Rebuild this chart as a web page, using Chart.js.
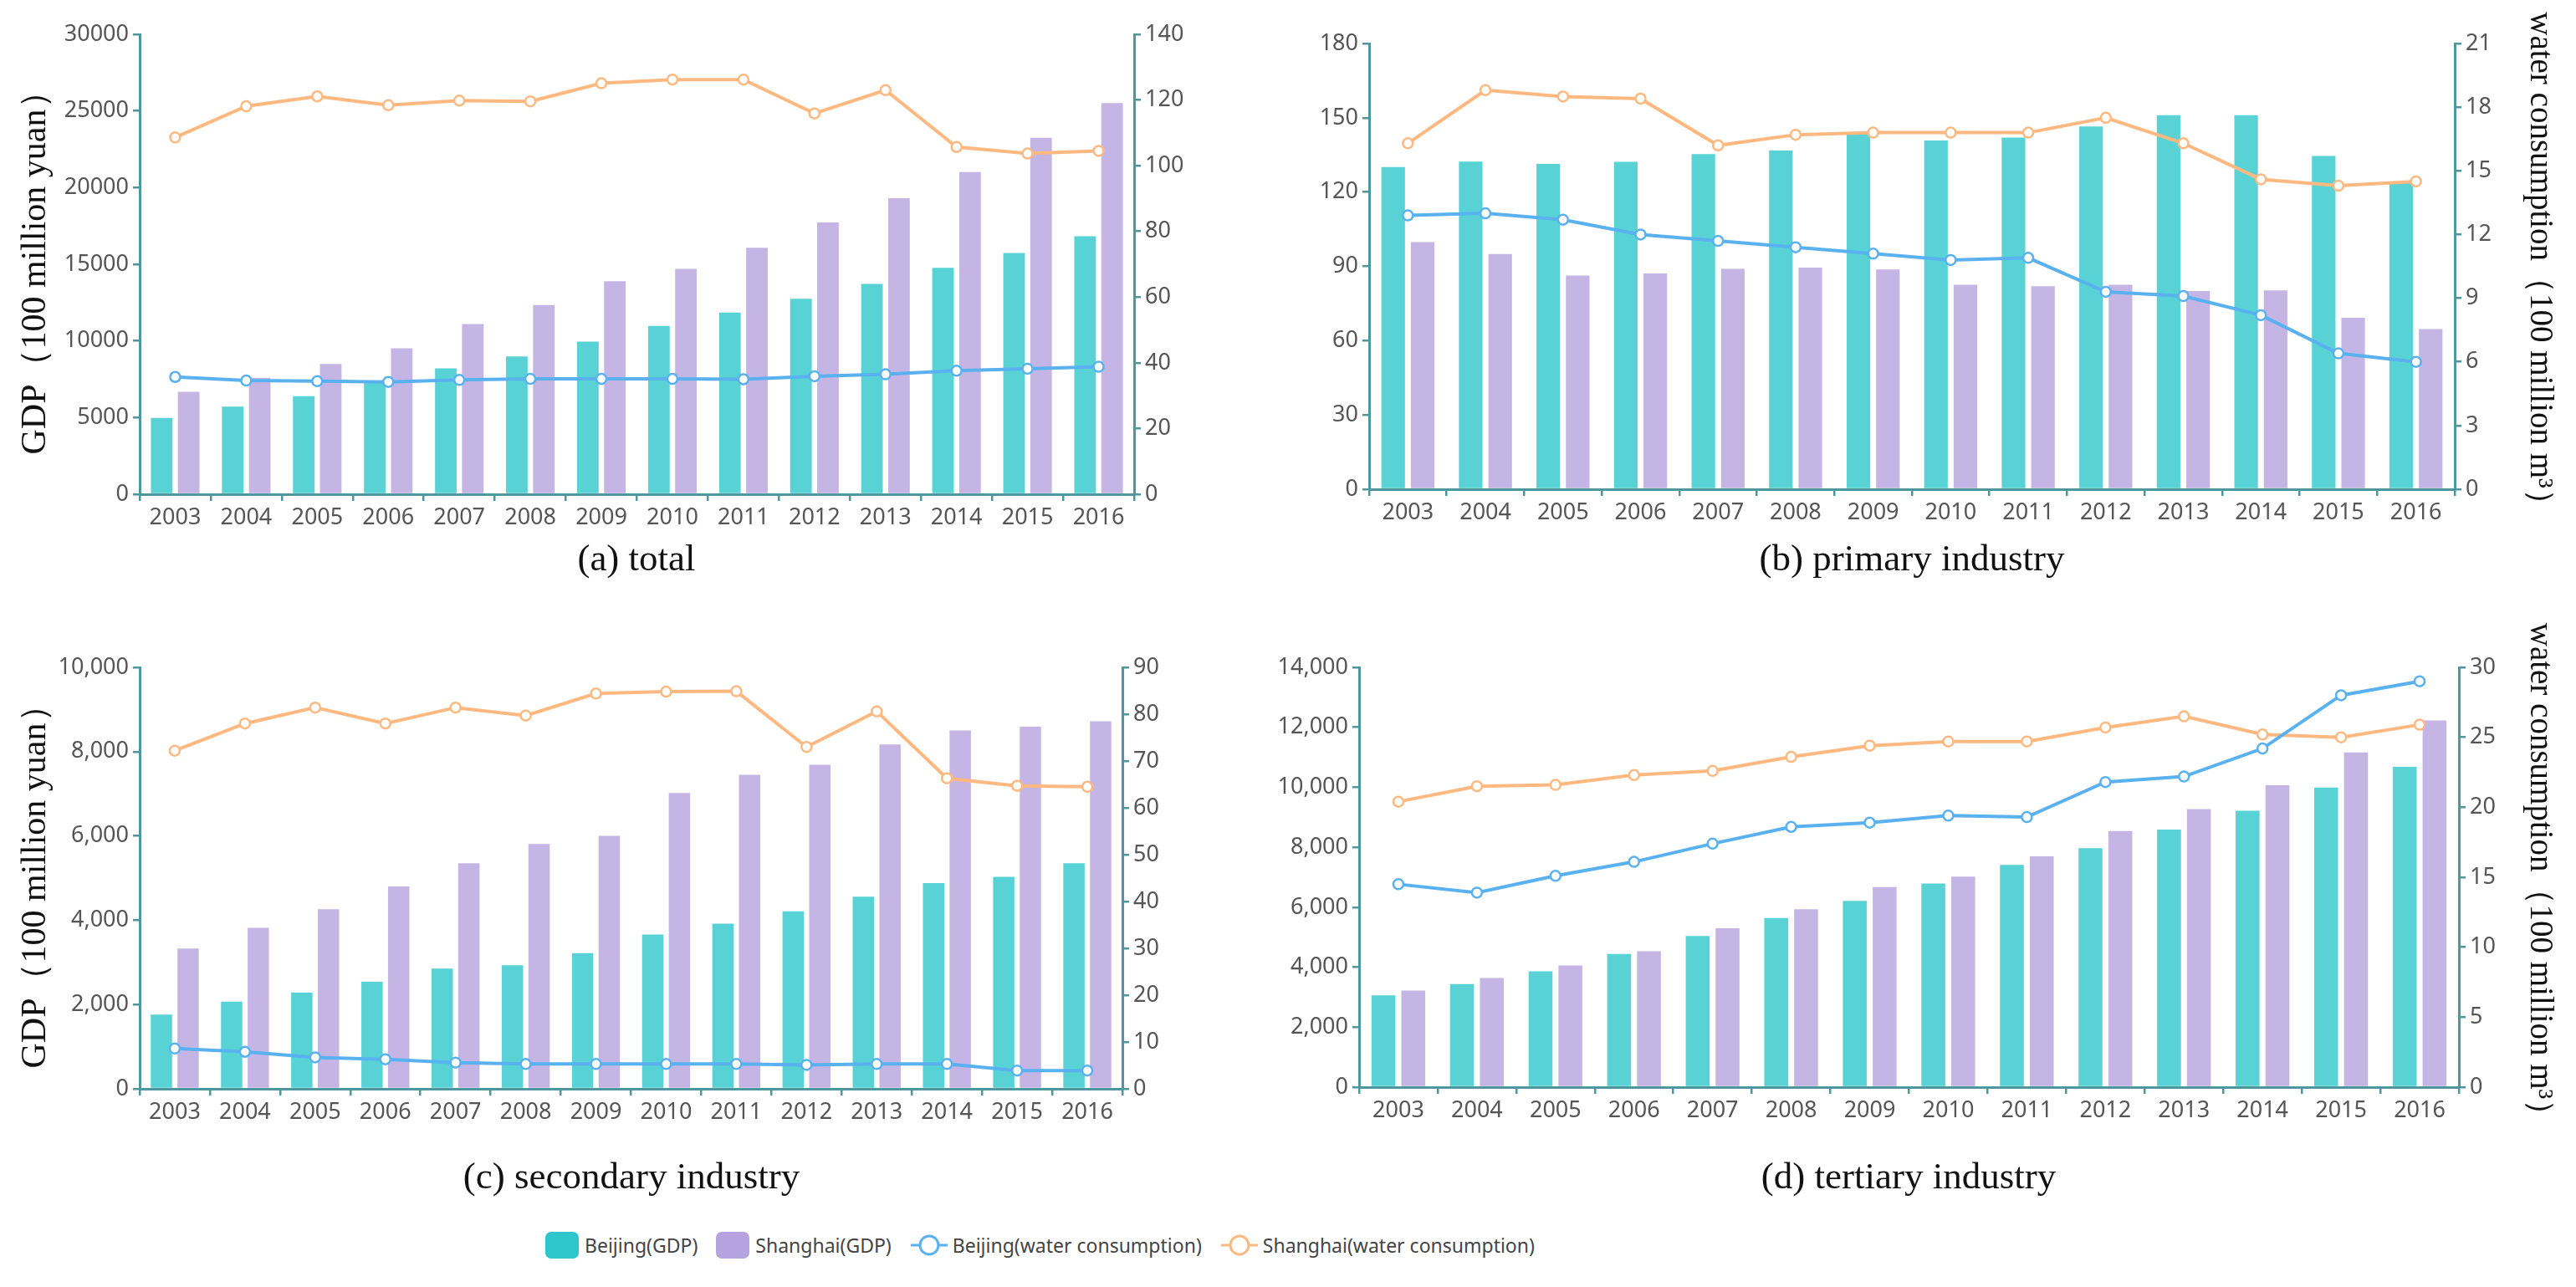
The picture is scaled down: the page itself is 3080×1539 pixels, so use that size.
<!DOCTYPE html>
<html>
<head>
<meta charset="utf-8">
<script src="https://cdn.jsdelivr.net/npm/chart.js@4.4.0/dist/chart.umd.min.js"></script>
<style>
  body { margin: 0; background: #fff; width: 3080px; height: 1539px; position: relative; overflow: hidden; font-family: "Noto Sans", sans-serif; }
  .panel { position: absolute; }
  .cap { position: absolute; font-family: "Liberation Serif", "Times New Roman", serif; font-size: 45px; line-height: 46px; color: #111; transform: translateX(-50%); white-space: nowrap; }
  #legend { position: absolute; left: 652px; top: 1469px; height: 40px; display: flex; align-items: center; font-size: 23px; color: #444; }
  #legend .item { display: flex; align-items: center; margin-right: 22px; }
  #legend .box { width: 40px; height: 32px; border-radius: 7px; margin-right: 7px; }
  #legend svg { margin-right: 5px; }
</style>
</head>
<body>
<canvas id="chartA" class="panel" style="left:0;top:0" width="1480" height="700"></canvas>
<canvas id="chartB" class="panel" style="left:1480px;top:0" width="1600" height="700"></canvas>
<canvas id="chartC" class="panel" style="left:0;top:700px" width="1480" height="760"></canvas>
<canvas id="chartD" class="panel" style="left:1480px;top:700px" width="1600" height="760"></canvas>

<div class="cap" style="left:761px;top:644px">(a) total</div>
<div class="cap" style="left:2286px;top:644px">(b) primary industry</div>
<div class="cap" style="left:755px;top:1383px">(c) secondary industry</div>
<div class="cap" style="left:2282px;top:1383px">(d) tertiary industry</div>

<div id="legend"></div>

<script>
// GDP (100 million yuan) and water consumption (100 million m3), Beijing vs Shanghai
const years = ['2003', '2004', '2005', '2006', '2007', '2008', '2009', '2010', '2011', '2012', '2013', '2014', '2015', '2016'];

// (a) total
const totalBjGdp = [4980, 5710, 6390, 7290, 8210, 8990, 9960, 10980, 11850, 12750, 13720, 14770, 15740, 16830];
const totalShGdp = [6680, 7600, 8500, 9520, 11100, 12340, 13890, 14700, 16080, 17730, 19310, 21010, 23250, 25510];
const totalBjWater = [35.7, 34.6, 34.4, 34.2, 34.8, 35.1, 35.1, 35.1, 35.0, 35.9, 36.5, 37.6, 38.2, 38.8];
const totalShWater = [108.6, 118.1, 121.1, 118.4, 119.8, 119.6, 125.1, 126.2, 126.2, 115.9, 123.0, 105.7, 103.7, 104.5];

// (b) primary industry
const primBjGdp = [130.1, 132.3, 131.4, 132.2, 135.3, 136.8, 143.6, 140.8, 142.0, 146.5, 151.0, 151.0, 134.6, 123.6];
const primShGdp = [99.8, 95.0, 86.3, 87.1, 89.0, 89.5, 88.7, 82.6, 82.0, 82.6, 80.0, 80.3, 69.2, 64.7];
const primBjWater = [12.9, 13.0, 12.7, 12.0, 11.7, 11.4, 11.1, 10.8, 10.9, 9.3, 9.1, 8.2, 6.4, 6.0];
const primShWater = [16.3, 18.8, 18.5, 18.4, 16.2, 16.7, 16.8, 16.8, 16.8, 17.5, 16.3, 14.6, 14.3, 14.5];

// (c) secondary industry
const secBjGdp = [1760, 2070, 2280, 2540, 2850, 2930, 3220, 3660, 3920, 4210, 4560, 4880, 5030, 5350];
const secShGdp = [3330, 3820, 4260, 4800, 5350, 5810, 6000, 7020, 7450, 7690, 8170, 8500, 8590, 8720];
const secBjWater = [8.6, 7.9, 6.7, 6.3, 5.6, 5.3, 5.3, 5.3, 5.3, 5.1, 5.3, 5.3, 3.9, 3.9];
const secShWater = [72.2, 78.0, 81.4, 78.0, 81.4, 79.7, 84.4, 84.8, 84.9, 73.0, 80.6, 66.3, 64.7, 64.5];

// (d) tertiary industry
const terBjGdp = [3060, 3440, 3860, 4440, 5040, 5640, 6210, 6790, 7410, 7970, 8590, 9220, 9990, 10680];
const terShGdp = [3220, 3640, 4060, 4530, 5300, 5930, 6670, 7020, 7700, 8540, 9270, 10070, 11160, 12230];
const terBjWater = [14.5, 13.9, 15.1, 16.1, 17.4, 18.6, 18.9, 19.4, 19.3, 21.8, 22.2, 24.2, 28.0, 29.0];
const terShWater = [20.4, 21.5, 21.6, 22.3, 22.6, 23.6, 24.4, 24.7, 24.7, 25.7, 26.5, 25.2, 25.0, 25.9];

const seriesNames = ['Beijing(GDP)', 'Shanghai(GDP)', 'Beijing(water consumption)', 'Shanghai(water consumption)'];
const gdpTitle = 'GDP（100 million yuan）';
const waterTitle = 'water consumption（100 million m³）';

const TEAL = '#2ec7c9', PURPLE = '#b6a2de', BLUE = '#5ab1ef', ORANGE = '#ffb980';
const AXIS = '#4f979f';
const tickFont = { family: 'Noto Sans', size: 27 };

function lineSet(label, data, color) {
  return {
    type: 'line', label, data, yAxisID: 'y1', order: 0,
    borderColor: color, borderWidth: 4, tension: 0,
    pointRadius: 6, pointBorderWidth: 2.5, pointBackgroundColor: '#fff', pointBorderColor: color
  };
}

function barSet(label, data, rgb) {
  return {
    type: 'bar', label, data, yAxisID: 'y', order: 1,
    backgroundColor: 'rgba(' + rgb + ',0.8)',
    categoryPercentage: 0.76, barPercentage: 0.8
  };
}

function makePanel(id, bj, sh, bjW, shW, ax) {
  const ctx = document.getElementById(id).getContext('2d');
  return new Chart(ctx, {
    type: 'bar',
    data: {
      labels: years,
      datasets: [
        barSet(seriesNames[0], bj, '46,199,201'),
        barSet(seriesNames[1], sh, '182,162,222'),
        lineSet(seriesNames[2], bjW, BLUE),
        lineSet(seriesNames[3], shW, ORANGE)
      ]
    },
    options: {
      responsive: false,
      devicePixelRatio: 1,
      animation: false,
      layout: { padding: { top: ax.top, left: 0, right: 0, bottom: 0 } },
      plugins: { legend: { display: false }, tooltip: { enabled: false } },
      scales: {
        x: {
          grid: { drawOnChartArea: false, color: AXIS, lineWidth: 2.5, tickLength: 8 },
          border: { color: AXIS, width: 3 },
          ticks: { font: tickFont, color: '#555', padding: 4, maxRotation: 0 },
          afterFit: s => { s.height = ax.bottom; }
        },
        y: {
          position: 'left', min: 0, max: ax.yMax,
          grid: { drawOnChartArea: false, color: AXIS, lineWidth: 2.5, tickLength: 8 },
          border: { color: AXIS, width: 3 },
          ticks: { stepSize: ax.yStep, font: tickFont, color: '#555', padding: 5,
                   callback: ax.comma ? (v => v.toLocaleString('en-US')) : (v => String(v)) },
          title: { display: ax.leftTitle, text: gdpTitle, color: '#111',
                   font: { family: 'Liberation Serif', size: 42 }, padding: { top: 18 } },
          afterFit: s => { s.width = ax.left; }
        },
        y1: {
          position: 'right', min: 0, max: ax.wMax,
          grid: { drawOnChartArea: false, color: AXIS, lineWidth: 2.5, tickLength: 8 },
          border: { color: AXIS, width: 3 },
          ticks: { stepSize: ax.wStep, font: tickFont, color: '#555', padding: 5 },
          title: { display: ax.rightTitle, text: waterTitle, color: '#111',
                   font: { family: 'Liberation Serif', size: 39 }, padding: { top: 20 } },
          afterFit: s => { s.width = ax.right; }
        }
      }
    }
  });
}

makePanel('chartA', totalBjGdp, totalShGdp, totalBjWater, totalShWater,
  { top: 41, bottom: 109, left: 167, right: 124, yMax: 30000, yStep: 5000, wMax: 140, wStep: 20, comma: false, leftTitle: true, rightTitle: false });
makePanel('chartB', primBjGdp, primShGdp, primBjWater, primShWater,
  { top: 52, bottom: 115, left: 157, right: 145, yMax: 180, yStep: 30, wMax: 21, wStep: 3, comma: false, leftTitle: false, rightTitle: true });
makePanel('chartC', secBjGdp, secShGdp, secBjWater, secShWater,
  { top: 98, bottom: 158, left: 167, right: 138, yMax: 10000, yStep: 2000, wMax: 90, wStep: 10, comma: true, leftTitle: true, rightTitle: false });
makePanel('chartD', terBjGdp, terShGdp, terBjWater, terShWater,
  { top: 98, bottom: 160, left: 145, right: 140, yMax: 14000, yStep: 2000, wMax: 30, wStep: 5, comma: true, leftTitle: false, rightTitle: true });

// shared legend
const legend = document.getElementById('legend');
const swatches = [
  { kind: 'box', color: TEAL },
  { kind: 'box', color: PURPLE },
  { kind: 'line', color: BLUE },
  { kind: 'line', color: ORANGE }
];
seriesNames.forEach((name, i) => {
  const sw = swatches[i];
  const item = document.createElement('div');
  item.className = 'item';
  if (sw.kind === 'box') {
    item.innerHTML = '<div class="box" style="background:' + sw.color + '"></div>';
  } else {
    item.innerHTML = '<svg width="46" height="36"><line x1="1" y1="18" x2="45" y2="18" stroke="' + sw.color +
      '" stroke-width="3"/><circle cx="23" cy="18" r="11" fill="#fff" stroke="' + sw.color + '" stroke-width="3"/></svg>';
  }
  item.insertAdjacentHTML('beforeend', '<span>' + name + '</span>');
  legend.appendChild(item);
});
</script>
</body>
</html>
